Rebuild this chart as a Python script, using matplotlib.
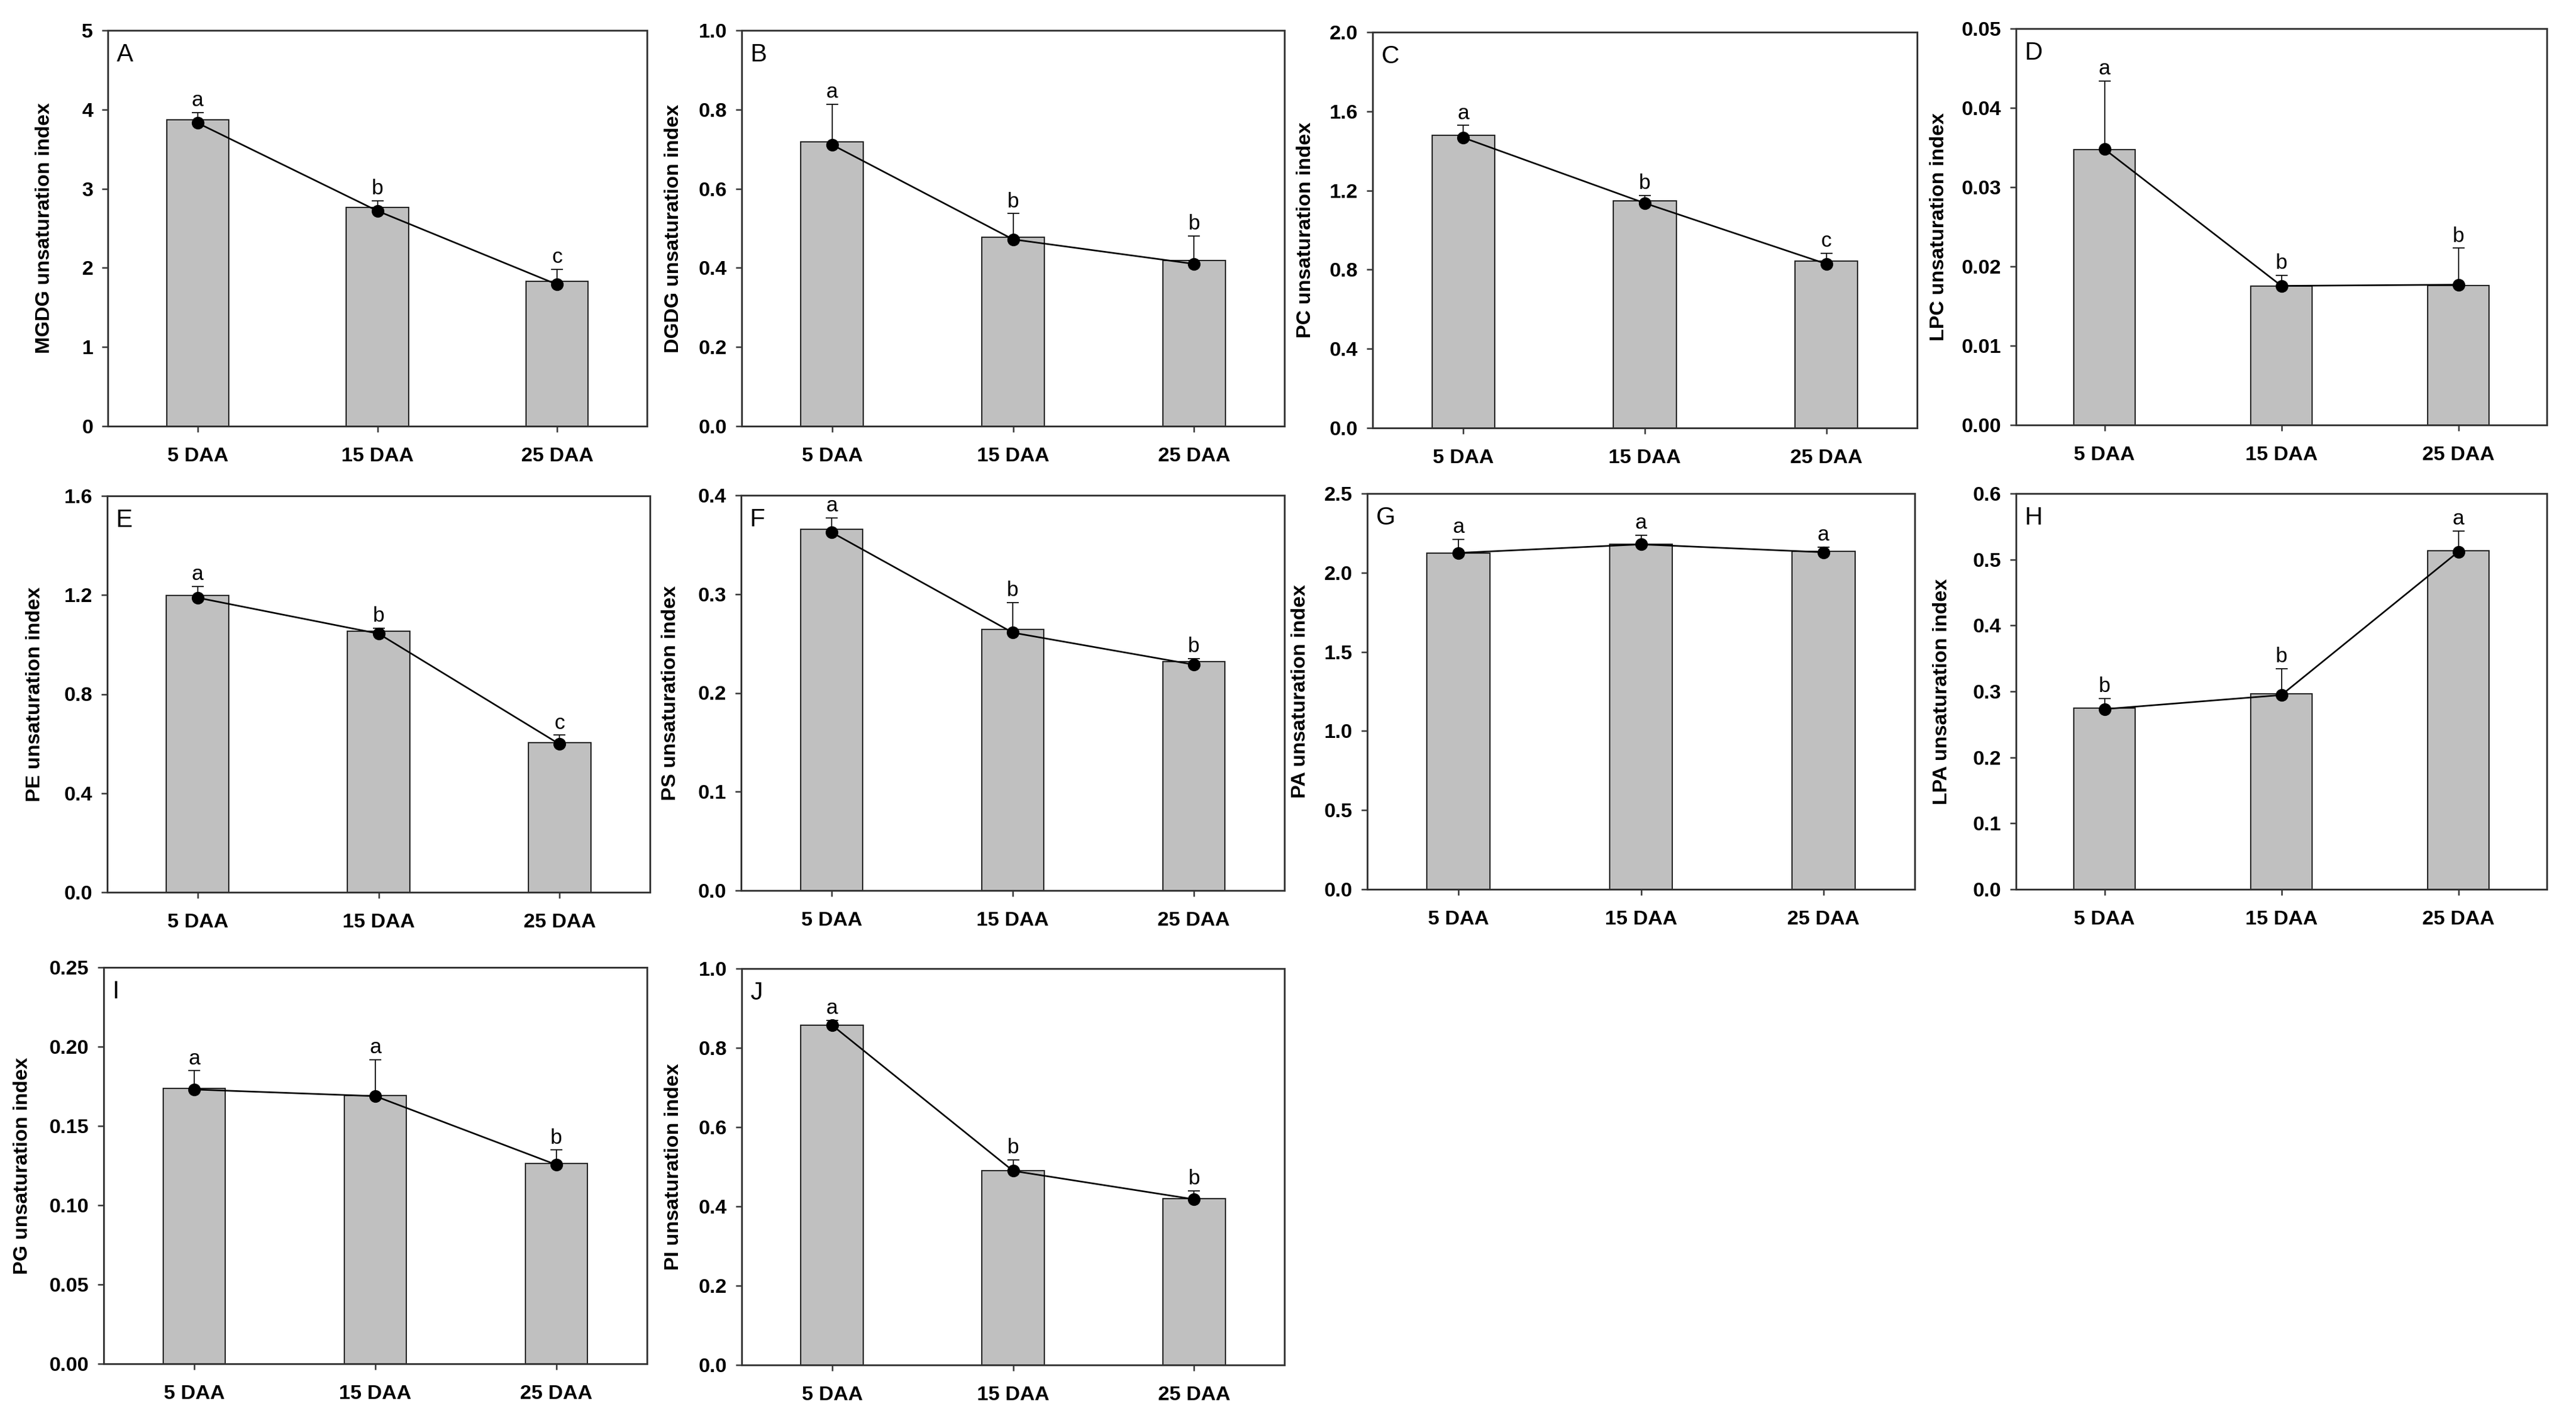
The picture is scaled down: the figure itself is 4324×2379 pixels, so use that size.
import numpy as np
import matplotlib
matplotlib.use("Agg")
import matplotlib.pyplot as plt
from matplotlib.ticker import FormatStrFormatter

plt.rcParams['font.family'] = ['Liberation Sans', 'DejaVu Sans']

# categories shared by every panel
stages = ["5 DAA", "15 DAA", "25 DAA"]

panel_ids = ["A", "B", "C", "D", "E", "F", "G", "H", "I", "J"]
lipids = ["MGDG", "DGDG", "PC", "LPC", "PE", "PS", "PA", "LPA", "PG", "PI"]

# bar heights (mean unsaturation index)
bar_A = [3.87, 2.76, 1.83]
bar_B = [0.719, 0.478, 0.418]
bar_C = [1.480, 1.148, 0.844]
bar_D = [0.0347, 0.01755, 0.01763]
bar_E = [1.197, 1.054, 0.605]
bar_F = [0.3655, 0.264, 0.2314]
bar_G = [2.125, 2.179, 2.133]
bar_H = [0.2751, 0.2968, 0.5137]
bar_I = [0.1736, 0.1692, 0.1262]
bar_J = [0.857, 0.4896, 0.419]

# points of the connecting line
pts_A = [3.83, 2.72, 1.79]
pts_B = [0.711, 0.472, 0.410]
pts_C = [1.467, 1.136, 0.829]
pts_D = [0.0348, 0.01755, 0.0177]
pts_E = [1.189, 1.044, 0.598]
pts_F = [0.3625, 0.261, 0.2286]
pts_G = [2.125, 2.179, 2.129]
pts_H = [0.2732, 0.2945, 0.5118]
pts_I = [0.173, 0.1688, 0.1255]
pts_J = [0.857, 0.4896, 0.418]

# standard errors (drawn upward only)
se_A = [0.09, 0.09, 0.15]
se_B = [0.094, 0.059, 0.063]
se_C = [0.049, 0.026, 0.039]
se_D = [0.0087, 0.00135, 0.00467]
se_E = [0.037, 0.012, 0.029]
se_F = [0.0117, 0.0274, 0.0034]
se_G = [0.085, 0.059, 0.029]
se_H = [0.0138, 0.0374, 0.0295]
se_I = [0.0112, 0.0226, 0.0086]
se_J = [0.012, 0.0274, 0.020]

# significance letters
sig_A = ["a", "b", "c"]
sig_B = ["a", "b", "b"]
sig_C = ["a", "b", "c"]
sig_D = ["a", "b", "b"]
sig_E = ["a", "b", "c"]
sig_F = ["a", "b", "b"]
sig_G = ["a", "a", "a"]
sig_H = ["b", "b", "a"]
sig_I = ["a", "a", "b"]
sig_J = ["a", "b", "b"]

# y axis max, tick step, tick label format
ymax = [5, 1.0, 2.0, 0.05, 1.6, 0.4, 2.5, 0.6, 0.25, 1.0]
ystep = [1, 0.2, 0.4, 0.01, 0.4, 0.1, 0.5, 0.1, 0.05, 0.2]
yfmt = ['%d', '%.1f', '%.1f', '%.2f', '%.1f', '%.1f', '%.1f', '%.1f', '%.2f', '%.1f']

bars = [bar_A, bar_B, bar_C, bar_D, bar_E, bar_F, bar_G, bar_H, bar_I, bar_J]
points = [pts_A, pts_B, pts_C, pts_D, pts_E, pts_F, pts_G, pts_H, pts_I, pts_J]
errors = [se_A, se_B, se_C, se_D, se_E, se_F, se_G, se_H, se_I, se_J]
sigs = [sig_A, sig_B, sig_C, sig_D, sig_E, sig_F, sig_G, sig_H, sig_I, sig_J]

# layout: axes boxes in pixels (left, top, right, bottom) and y-label distance
W, H = 4324, 2379
boxes = [(181, 51, 1086, 715), (1245, 51, 2156, 715), (2304, 54, 3218, 718), (3384, 48, 4275, 713),
         (180, 832, 1091, 1497), (1244, 831, 2156, 1494), (2295, 828, 3214, 1492), (3384, 828, 4275, 1492),
         (174, 1623, 1086, 2288), (1245, 1625, 2156, 2290)]
label_dist = [91, 99, 97, 114, 106, 103, 97, 109, 121, 99]

fig = plt.figure(figsize=(W / 300, H / 300), dpi=300)
x = np.arange(len(stages))

for i, pid in enumerate(panel_ids):
    l, t, r, b = boxes[i]
    ax = fig.add_axes([l / W, 1 - b / H, (r - l) / W, (b - t) / H])

    ax.bar(x, bars[i], width=0.345, color="#c0c0c0", edgecolor="#222222", linewidth=0.5, zorder=2)
    ax.errorbar(x, bars[i], yerr=[np.zeros(3), errors[i]], fmt="none", ecolor="#111111",
                elinewidth=0.45, capsize=2.4, capthick=0.45, zorder=3)
    ax.plot(x, points[i], color="black", linewidth=0.65, marker="o", markersize=4.1, zorder=4)

    for xi, top, letter in zip(x, np.array(bars[i]) + np.array(errors[i]), sigs[i]):
        ax.annotate(letter, (xi, top), xytext=(0, 2.6), textcoords="offset points",
                    ha="center", va="baseline", fontsize=8.5)

    ax.text(0.016, 0.922, pid, transform=ax.transAxes, fontsize=10, ha="left", va="baseline")

    ax.set_xlim(-0.5, 2.5)
    ax.set_ylim(0, ymax[i])
    ax.set_yticks(np.arange(0, ymax[i] + ystep[i] / 2, ystep[i]))
    ax.yaxis.set_major_formatter(FormatStrFormatter(yfmt[i]))
    ax.set_xticks(x)
    ax.set_xticklabels(stages)
    ax.tick_params(direction="out", length=2.4, width=0.6, labelsize=8.2, top=False, right=False,
                   color="#333333")
    ax.tick_params(axis="x", pad=6)
    ax.tick_params(axis="y", pad=3.5)
    for lab in ax.get_xticklabels() + ax.get_yticklabels():
        lab.set_fontweight("bold")
    for sp in ax.spines.values():
        sp.set_linewidth(0.7)
        sp.set_color("#333333")

    ax.set_ylabel(f"{lipids[i]} unsaturation index", fontsize=8.2, fontweight="bold")
    ax.yaxis.set_label_coords(-label_dist[i] / (r - l), 0.5)

fig.savefig("out.png", dpi=300, facecolor="white")
plt.close(fig)
